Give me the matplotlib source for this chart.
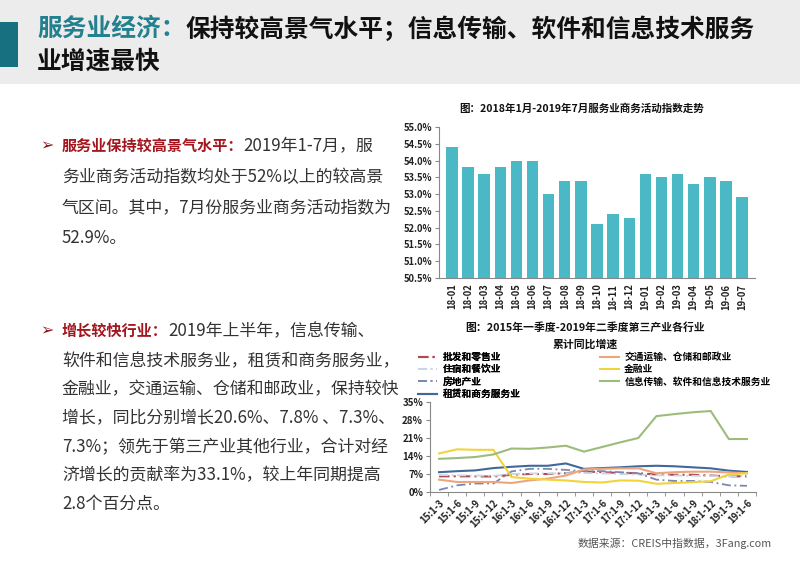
import matplotlib
matplotlib.use("Agg")
import matplotlib.pyplot as plt
from matplotlib.patches import Rectangle

plt.rcParams['font.family'] = ['Noto Sans CJK SC', 'DejaVu Sans']
plt.rcParams['axes.unicode_minus'] = False

# ---------------- data ----------------
bar_months = ["18-01", "18-02", "18-03", "18-04", "18-05", "18-06", "18-07", "18-08", "18-09",
              "18-10", "18-11", "18-12", "19-01", "19-02", "19-03", "19-04", "19-05", "19-06", "19-07"]
bar_values = [54.4, 53.8, 53.6, 53.8, 54.0, 54.0, 53.0, 53.4, 53.4,
              52.1, 52.4, 52.3, 53.6, 53.5, 53.6, 53.3, 53.5, 53.4, 52.9]
bar_yticks = [50.5, 51.0, 51.5, 52.0, 52.5, 53.0, 53.5, 54.0, 54.5, 55.0]

quarters = ["15:1-3", "15:1-6", "15:1-9", "15:1-12", "16:1-3", "16:1-6", "16:1-9", "16:1-12",
            "17:1-3", "17:1-6", "17:1-9", "17:1-12", "18:1-3", "18:1-6", "18:1-9", "18:1-12",
            "19:1-3", "19:1-6"]
wholesale = [6.1, 6.1, 6.1, 6.0, 6.7, 7.0, 7.0, 7.3, 8.0, 7.7, 7.4, 7.3, 6.8, 6.7, 6.7, 6.4, 6.1, 6.1]
hotel = [6.6, 6.5, 6.4, 6.3, 7.0, 7.2, 7.2, 7.3, 7.4, 7.2, 7.0, 6.8, 6.5, 6.4, 6.3, 6.2, 6.1, 6.2]
realestate = [0.8, 2.6, 3.3, 3.3, 8.0, 9.0, 9.0, 8.6, 8.1, 8.1, 7.7, 7.3, 4.8, 4.3, 4.3, 3.9, 2.6, 2.4]
leasing = [7.7, 8.1, 8.4, 9.3, 9.8, 10.2, 10.2, 11.1, 9.0, 9.3, 9.6, 10.0, 10.2, 10.0, 9.6, 9.2, 8.3, 7.8]
transport = [4.8, 3.9, 3.9, 3.9, 3.5, 4.5, 5.2, 6.4, 8.8, 9.0, 9.2, 9.2, 7.3, 7.7, 7.9, 7.9, 7.6, 7.3]
finance = [15.0, 16.6, 16.4, 16.4, 5.8, 5.2, 4.8, 4.5, 3.9, 3.7, 4.5, 4.4, 3.2, 3.5, 3.8, 4.2, 6.8, 7.3]
infotech = [12.9, 13.2, 13.6, 14.6, 16.9, 16.8, 17.3, 18.0, 15.7, 17.5, 19.3, 21.0, 29.5, 30.3, 31.0, 31.5, 20.6, 20.6]
line_yticks = [0, 7, 14, 21, 28, 35]

series_names = ["批发和零售业", "住宿和餐饮业", "房地产业", "租赁和商务服务业",
                "交通运输、仓储和邮政业", "金融业", "信息传输、软件和信息技术服务业"]

# ---------------- figure ----------------
W, H = 800, 565
fig = plt.figure(figsize=(W / 100, H / 100), dpi=100)
fig.patch.set_facecolor("white")

def fx(px):
    return px / W

def fy(py):
    return 1 - py / H

# header band
fig.patches.append(Rectangle((0, fy(84)), 1, 84 / H, transform=fig.transFigure,
                             facecolor="#ECECEC", edgecolor="none", zorder=0))
fig.patches.append(Rectangle((0, fy(67)), fx(18), 45 / H, transform=fig.transFigure,
                             facecolor="#17707F", edgecolor="none", zorder=1))

renderer = fig.canvas.get_renderer()

def run_text(x_px, y_px, parts):
    """Draw consecutive text parts on one line starting at x_px (pixels)."""
    x = x_px
    for txt, color, weight, size in parts:
        t = fig.text(fx(x), fy(y_px), txt, color=color, fontsize=size,
                     fontweight=weight, va="center", ha="left")
        bb = t.get_window_extent(renderer=renderer)
        x += bb.width
    return x

# title
tfs = 17.8
run_text(37, 29, [("服务业经济：", "#22808F", "bold", tfs),
                  ("保持较高景气水平；信息传输、软件和信息技术服务", "#111111", "bold", tfs)])
run_text(37, 62, [("业增速最快", "#111111", "bold", tfs)])

# left text
txt_color = "#333333"
red = "#A3161E"
fs = 12.2
rfs = 10.9
fig.text(fx(40), fy(146), "➢", color="#8E1A20", fontsize=11.5, fontweight="bold",
         va="center", ha="left", family=["DejaVu Sans"])
run_text(62, 146, [("服务业保持较高景气水平：", red, "bold", rfs),
                   ("2019年1-7月，服", txt_color, "normal", fs)])
para1 = ["务业商务活动指数均处于52%以上的较高景",
         "气区间。其中，7月份服务业商务活动指数为",
         "52.9%。"]
for i, line in enumerate(para1):
    fig.text(fx(62), fy(177 + 30.5 * i), line, color=txt_color, fontsize=fs, va="center", ha="left")

fig.text(fx(40), fy(331), "➢", color="#8E1A20", fontsize=11.5, fontweight="bold",
         va="center", ha="left", family=["DejaVu Sans"])
run_text(62, 331, [("增长较快行业：", red, "bold", rfs),
                   ("2019年上半年，信息传输、", txt_color, "normal", fs)])
para2 = ["软件和信息技术服务业，租赁和商务服务业，",
         "金融业，交通运输、仓储和邮政业，保持较快",
         "增长，同比分别增长20.6%、7.8% 、7.3%、",
         "7.3%；领先于第三产业其他行业，合计对经",
         "济增长的贡献率为33.1%，较上年同期提高",
         "2.8个百分点。"]
for i, line in enumerate(para2):
    fig.text(fx(62), fy(361 + 28.6 * i), line, color=txt_color, fontsize=fs, va="center", ha="left")

# ---------------- bar chart ----------------
ax1 = fig.add_axes([fx(439), fy(278), fx(755 - 439), (278 - 127) / H])
x = list(range(len(bar_months)))
ax1.bar(x, bar_values, width=0.7, color="#4BB9C5", zorder=2)
ax1.set_ylim(50.5, 55.0)
ax1.set_xlim(-0.8, len(bar_months) - 0.2)
ax1.set_yticks(bar_yticks)
ax1.set_yticklabels([f"{v:.1f}%" for v in bar_yticks], fontsize=6.8, fontweight="bold", color="#222222")
ax1.set_xticks(x)
ax1.set_xticklabels(bar_months, rotation=90, fontsize=6.8, fontweight="bold", color="#222222")
for s in ["top", "right"]:
    ax1.spines[s].set_visible(False)
for s in ["left", "bottom"]:
    ax1.spines[s].set_color("#888888")
    ax1.spines[s].set_linewidth(0.8)
ax1.tick_params(axis="y", length=3, color="#888888", pad=2)
ax1.tick_params(axis="x", length=0, pad=4)
fig.text(fx(582), fy(109), "图：2018年1月-2019年7月服务业商务活动指数走势", fontsize=7.6,
         fontweight="bold", ha="center", va="center", color="#111111")

# ---------------- line chart ----------------
ax2 = fig.add_axes([fx(430), fy(492), fx(756 - 430), (492 - 402) / H])
xi = list(range(len(quarters)))
styles = [
    (wholesale, "#B04A55", (0, (5, 2, 1, 2)), 1.5),
    (hotel, "#C9D6E3", (0, (5, 2, 1, 2)), 1.3),
    (realestate, "#7C88B4", (0, (5, 2, 1, 2)), 1.3),
    (leasing, "#41689A", "-", 1.5),
    (transport, "#EBA67D", "-", 1.5),
    (finance, "#F1D43C", "-", 1.5),
    (infotech, "#9DBC7C", "-", 1.5),
]
handles = []
for (vals, col, ls, lw), name in zip(styles, series_names):
    h, = ax2.plot(xi, vals, color=col, linestyle=ls, linewidth=lw, label=name)
    handles.append(h)
ax2.set_ylim(0, 35)
ax2.set_xlim(-0.5, len(quarters) - 0.5)
ax2.set_yticks(line_yticks)
ax2.set_yticklabels([f"{v}%" for v in line_yticks], fontsize=7, fontweight="bold", color="#222222")
ax2.set_xticks(xi)
ax2.set_xticklabels(quarters, rotation=45, ha="right", rotation_mode="anchor",
                    fontsize=6.8, fontweight="bold", color="#222222")
ax2.set_xticks([i + 0.5 for i in range(-1, len(quarters))], minor=True)
ax2.tick_params(axis="x", which="major", length=0, pad=4)
ax2.tick_params(axis="x", which="minor", length=3, color="#888888")
ax2.tick_params(axis="y", length=3, color="#888888", pad=2)
for s in ["top", "right"]:
    ax2.spines[s].set_visible(False)
for s in ["left", "bottom"]:
    ax2.spines[s].set_color("#888888")
    ax2.spines[s].set_linewidth(0.8)

leg1 = fig.legend(handles=handles[:4], loc="upper left", bbox_to_anchor=(fx(418), fy(352)),
                  frameon=False, handlelength=2.0, handletextpad=0.5,
                  labelspacing=0.25, borderaxespad=0, borderpad=0,
                  prop={"weight": "bold", "size": 7})
leg2 = fig.legend(handles=handles[4:], loc="upper left", bbox_to_anchor=(fx(600), fy(352)),
                  frameon=False, handlelength=2.0, handletextpad=0.5,
                  labelspacing=0.25, borderaxespad=0, borderpad=0,
                  prop={"weight": "bold", "size": 7})
fig.add_artist(leg1)

fig.text(fx(585), fy(328), "图：2015年一季度-2019年二季度第三产业各行业", fontsize=7.8,
         fontweight="bold", ha="center", va="center", color="#111111")
fig.text(fx(585), fy(344), "累计同比增速", fontsize=7.8,
         fontweight="bold", ha="center", va="center", color="#111111")
fig.text(fx(772), fy(543), "数据来源：CREIS中指数据，3Fang.com", fontsize=7.8,
         ha="right", va="center", color="#555555")

fig.savefig("out.png", dpi=100)
